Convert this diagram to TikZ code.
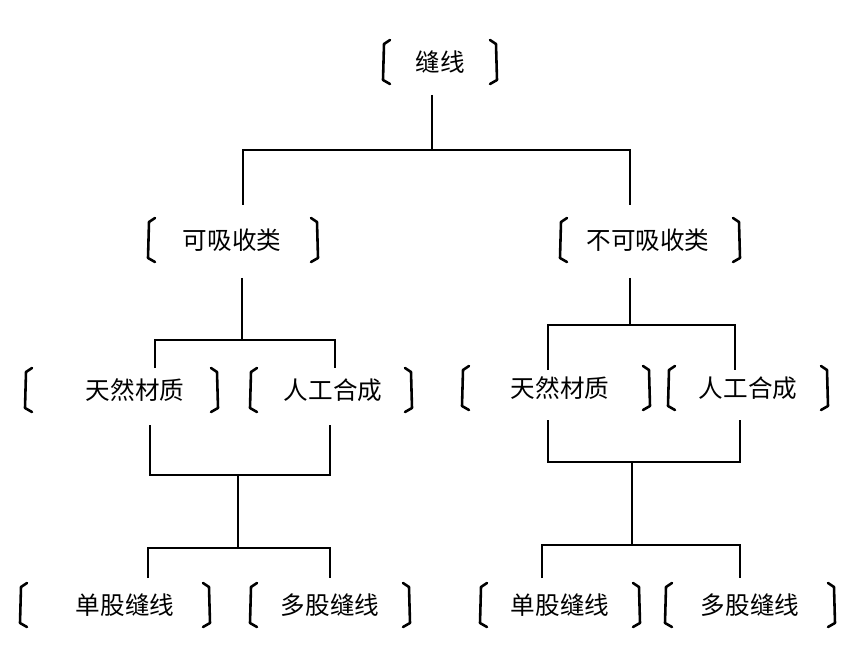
\documentclass[tikz,border=0pt]{standalone}
\usepackage{fontspec}
\newfontfamily\cjk{Noto Sans CJK SC}
\usetikzlibrary{positioning}

% bracketed label: name, x, y, left bracket x, right bracket x, text
\newcommand{\brlabel}[6]{%
  \node[lbl] (#1) at (#2,#3) {#6};
  \draw[brk] (#4+7,#3-22) -- (#4+1,#3-18) -- (#4,#3+18) -- (#4+7,#3+22);
  \draw[brk] (#5-7,#3-22) -- (#5-1,#3-18) -- (#5,#3+18) -- (#5-7,#3+22);}

\begin{document}
\begin{tikzpicture}[x=0.03cm,y=-0.03cm,
    lbl/.style={font=\cjk\fontsize{21}{21}\selectfont,inner sep=0pt},
    brk/.style={line width=2.2pt,line join=round,line cap=round},
    tree/.style={line width=2.2pt}]
        \useasboundingbox (0,0) rectangle (862,651);

        \brlabel{root}{440}{62}{383}{497}{缝线}
        \brlabel{absorb}{232}{240}{148}{318}{可吸收类}
        \brlabel{nonabsorb}{648}{240}{560}{740}{不可吸收类}
        \brlabel{natA}{135}{390}{25}{218}{天然材质}
        \brlabel{synA}{333}{390}{250}{412}{人工合成}
        \brlabel{natB}{560}{388}{462}{650}{天然材质}
        \brlabel{synB}{748}{388}{668}{828}{人工合成}
        \brlabel{monoA}{125}{605}{20}{210}{单股缝线}
        \brlabel{multiA}{330}{605}{250}{410}{多股缝线}
        \brlabel{monoB}{560}{605}{480}{640}{单股缝线}
        \brlabel{multiB}{750}{605}{665}{835}{多股缝线}

        % junction points
        \coordinate (r0) at (432,95);
        \coordinate (r1) at (432,150);
        \coordinate (ra) at (243,150);
        \coordinate (rb) at (630,150);
        \coordinate (ra1) at (243,205);
        \coordinate (rb1) at (630,205);

        \coordinate (a0) at (242,278);
        \coordinate (a1) at (242,340);
        \coordinate (a2) at (155,340);
        \coordinate (a3) at (335,340);
        \coordinate (a4) at (155,368);
        \coordinate (a5) at (335,368);
        \coordinate (a6) at (150,425);
        \coordinate (a7) at (330,425);
        \coordinate (a8) at (150,475);
        \coordinate (a9) at (330,475);
        \coordinate (a10) at (238,475);
        \coordinate (a11) at (238,548);
        \coordinate (a12) at (148,548);
        \coordinate (a13) at (330,548);
        \coordinate (a14) at (148,578);
        \coordinate (a15) at (330,578);

        \coordinate (b0) at (630,278);
        \coordinate (b1) at (630,325);
        \coordinate (b2) at (548,325);
        \coordinate (b3) at (735,325);
        \coordinate (b4) at (548,370);
        \coordinate (b5) at (735,370);
        \coordinate (b6) at (548,420);
        \coordinate (b7) at (740,420);
        \coordinate (b8) at (548,462);
        \coordinate (b9) at (740,462);
        \coordinate (b10) at (632,462);
        \coordinate (b11) at (632,545);
        \coordinate (b12) at (542,545);
        \coordinate (b13) at (740,545);
        \coordinate (b14) at (542,578);
        \coordinate (b15) at (740,578);

        \draw[tree] (r0) -- (r1);
        \draw[tree] (ra1) -- (ra) -- (rb) -- (rb1);

        \draw[tree] (a0) -- (a1);
        \draw[tree] (a4) -- (a2) -- (a3) -- (a5);
        \draw[tree] (a6) -- (a8) -- (a9) -- (a7);
        \draw[tree] (a10) -- (a11);
        \draw[tree] (a14) -- (a12) -- (a13) -- (a15);

        \draw[tree] (b0) -- (b1);
        \draw[tree] (b4) -- (b2) -- (b3) -- (b5);
        \draw[tree] (b6) -- (b8) -- (b9) -- (b7);
        \draw[tree] (b10) -- (b11);
        \draw[tree] (b14) -- (b12) -- (b13) -- (b15);
\end{tikzpicture}
\end{document}
